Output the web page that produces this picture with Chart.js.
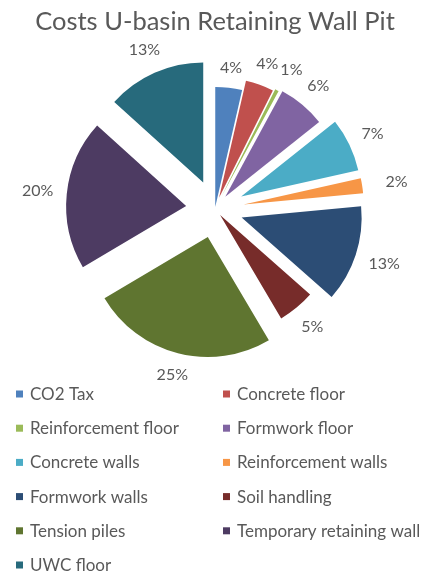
<!DOCTYPE html>
<html>
<head>
<meta charset="utf-8">
<script src="https://cdn.jsdelivr.net/npm/chart.js@4/dist/chart.umd.min.js"></script>
<style>
    html, body { margin: 0; padding: 0; background: #fff; }
    canvas { display: block; }
</style>
</head>
<body>
<canvas id="myChart" width="421" height="573"></canvas>
<script>
const categories = ['CO2 Tax', 'Concrete floor', 'Reinforcement floor', 'Formwork floor', 'Concrete walls',
    'Reinforcement walls', 'Formwork walls', 'Soil handling', 'Tension piles', 'Temporary retaining wall', 'UWC floor'];
const shares = [3.6, 3.8, 0.5, 6.4, 7.2, 2.0, 13.0, 5.0, 25.0, 20.2, 13.3];
const sliceColors = ['#4F81BD', '#C0504D', '#9BBB59', '#8064A2', '#4BACC6', '#F79646',
    '#2C4D75', '#772C2A', '#5F7530', '#4D3B62', '#276A7C'];
const pullOut = [2, 12, 14, 16, 29, 29, 28, 8, 29, 29, 29]; // px each slice is exploded

const textColor = '#595959';
const fontName = 'Lato';

// move every slice outward along its middle angle (excel style explosion)
const explodePlugin = {
    id: 'explode',
    afterDatasetsUpdate: function (chart) {
        chart.getDatasetMeta(0).data.forEach(function (arc, i) {
            const mid = (arc.startAngle + arc.endAngle) / 2;
            arc.x += Math.cos(mid) * pullOut[i];
            arc.y += Math.sin(mid) * pullOut[i];
        });
    }
};

// percentage labels just outside each slice
const labelPlugin = {
    id: 'outsideLabels',
    afterDatasetsDraw: function (chart) {
        const ctx = chart.ctx;
        const total = shares.reduce(function (a, b) { return a + b; }, 0);
        ctx.save();
        ctx.font = '16px ' + fontName;
        ctx.fillStyle = textColor;
        ctx.textAlign = 'center';
        ctx.textBaseline = 'middle';
        let prevRight = -1;
        chart.getDatasetMeta(0).data.forEach(function (arc, i) {
            const text = Math.round(shares[i] / total * 100) + '%';
            const mid = (arc.startAngle + arc.endAngle) / 2;
            const cos = Math.cos(mid), sin = Math.sin(mid);
            const w = ctx.measureText(text).width;
            const d = arc.outerRadius + 13 + w / 2 * Math.abs(cos) + 6 * Math.abs(sin);
            let x = arc.x + cos * d;
            const y = arc.y + sin * d;
            // small labels in the top right crowd together, push them apart like excel does
            if (sin < 0 && cos > 0 && x - w / 2 < prevRight + 2) {
                x = prevRight + 2 + w / 2;
            }
            if (sin < 0 && cos > 0) prevRight = x + w / 2;
            ctx.fillText(text, x, y);
        });
        ctx.restore();
    }
};

// two column legend under the pie
const legendPlugin = {
    id: 'twoColLegend',
    afterDraw: function (chart) {
        const ctx = chart.ctx;
        const colX = [16, 223];
        const top = 394, rowGap = 34.2;
        ctx.save();
        ctx.font = '17px ' + fontName;
        ctx.textBaseline = 'middle';
        chart.data.labels.forEach(function (label, i) {
            const x = colX[i % 2];
            const y = top + Math.floor(i / 2) * rowGap;
            ctx.fillStyle = sliceColors[i];
            ctx.fillRect(x, y - 3.5, 7, 7);
            ctx.fillStyle = textColor;
            ctx.fillText(label, x + 14, y + 0.5);
        });
        ctx.restore();
    }
};

let ctx = document.getElementById('myChart').getContext('2d');
let myChart = new Chart(ctx, {
    type: 'pie',
    data: {
        labels: categories,
        datasets: [{
            data: shares,
            backgroundColor: sliceColors,
            borderWidth: 0
        }]
    },
    options: {
        responsive: false,
        animation: false,
        radius: 120,
        layout: {
            padding: { left: 9, right: 0, top: 0, bottom: 198.2 }
        },
        plugins: {
            legend: { display: false },
            tooltip: { enabled: false },
            title: {
                display: true,
                text: 'Costs U-basin Retaining Wall Pit',
                color: textColor,
                font: { family: fontName, size: 25.5, weight: 'normal', lineHeight: 1.22 },
                padding: { top: 6, bottom: 6 }
            }
        }
    },
    plugins: [explodePlugin, labelPlugin, legendPlugin]
});
</script>
</body>
</html>
